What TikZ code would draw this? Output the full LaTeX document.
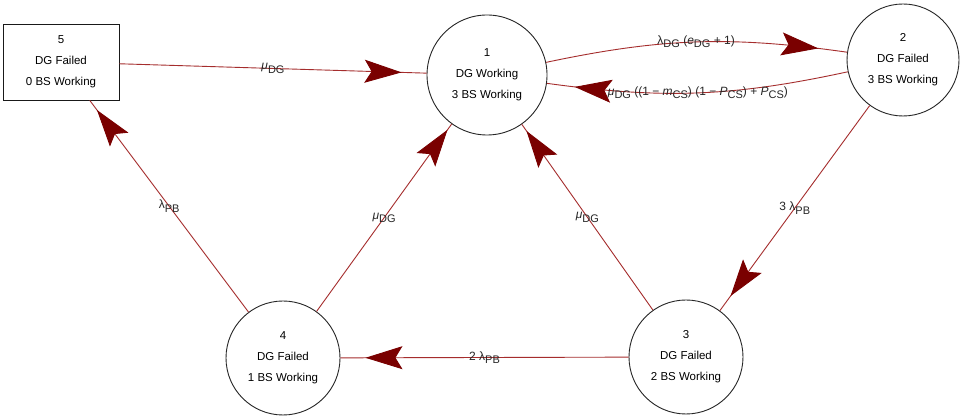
\documentclass[tikz,border=0pt]{standalone}
\usepackage{fontspec}
\setmainfont{Liberation Sans}
\usetikzlibrary{arrows.meta,decorations.markings}

\definecolor{edgered}{RGB}{165,45,45}
\definecolor{tipred}{RGB}{122,0,0}

% lowered subscript used in the transition rates
\newcommand\lsub[1]{\raisebox{-3.5pt}{\fontsize{11}{11}\selectfont #1}}

\tikzset{
  state/.style={circle, draw=black!85, line width=0.9pt, minimum size=#1,
    inner sep=0pt, align=center, font=\fontsize{11.5}{21}\selectfont},
  statebox/.style={rectangle, draw=black!90, line width=0.8pt,
    minimum width=116pt, minimum height=76pt, inner sep=0pt, align=center,
    font=\fontsize{11.5}{21}\selectfont},
  trans/.style={draw=edgered, line width=0.9pt, postaction={decorate},
    decoration={markings, mark=at position #1 with
      {\arrow{Stealth[length=37pt,width=23pt,inset=7pt,fill=tipred,color=tipred]}}}},
  rate/.style={font=\fontsize{12}{14}\selectfont, text=black!85, inner sep=0pt}
}

\begin{document}
\begin{tikzpicture}[x=1pt,y=1pt]
  \fill[white] (0,0) rectangle (963,417);
  \useasboundingbox (0,0) rectangle (963,417);

  % states
  \node[statebox] (n5) at (61,355) {5\\DG Failed\\0 BS Working};
  \node[state=120pt] (n1) at (487,342) {1\\DG Working\\3 BS Working};
  \node[state=112pt] (n2) at (903,357) {2\\DG Failed\\3 BS Working};
  \node[state=114pt] (n4) at (283,59) {4\\DG Failed\\1 BS Working};
  \node[state=114pt] (n3) at (686,60) {3\\DG Failed\\2 BS Working};

  % transitions
  \draw[trans=-25pt] (n5) -- node[rate] {{\itshape μ}\lsub{DG}} (n1);
  \draw[trans=-29pt] (n1) to[bend left=10]
    node[rate] {λ\lsub{DG} ({\itshape e}\lsub{DG} + 1)} (n2);
  \draw[trans=-28pt] (n2) to[bend left=10]
    node[rate] {{\itshape μ}\lsub{DG} ((1 − {\itshape m}\lsub{CS}) (1 − {\itshape P}\lsub{CS}) + {\itshape P}\lsub{CS})} (n1);
  \draw[trans=-18pt] (n2) -- node[rate] {3 λ\lsub{PB}} (n3);
  \draw[trans=-25pt] (n3) -- node[rate] {2 λ\lsub{PB}} (n4);
  \draw[trans=-12pt] (n4) -- node[rate] {λ\lsub{PB}} (n5);
  \draw[trans=-7pt] (n4) -- node[rate] {{\itshape μ}\lsub{DG}} (n1);
  \draw[trans=-8pt] (n3) -- node[rate] {{\itshape μ}\lsub{DG}} (n1);
\end{tikzpicture}
\end{document}
